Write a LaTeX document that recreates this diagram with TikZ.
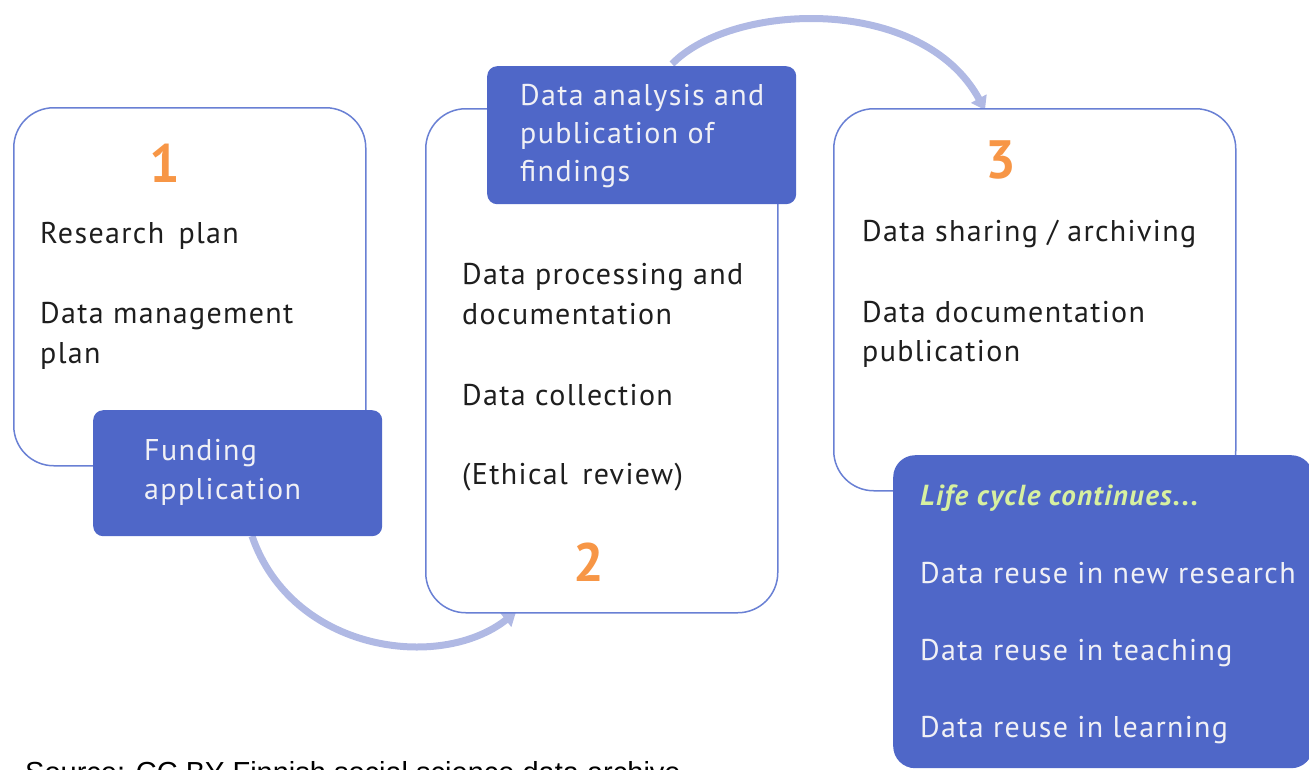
\documentclass[tikz,border=0pt]{standalone}
\usepackage{fontspec}
\setmainfont{PT Sans}[LetterSpace=4.5]
\newfontfamily\srcfont{Liberation Sans}
\usetikzlibrary{arrows.meta}
\definecolor{boxblue}{RGB}{79,103,200}
\definecolor{edgeblue}{RGB}{105,128,212}
\definecolor{arrowc}{RGB}{176,185,228}
\definecolor{orangec}{RGB}{247,150,70}
\definecolor{greenc}{RGB}{215,240,160}
\definecolor{textc}{RGB}{30,30,30}
\definecolor{wtextc}{RGB}{240,240,245}
\begin{document}
\begin{tikzpicture}[x=1pt,y=-1pt,
  outline/.style={draw=edgeblue, line width=1.5pt, fill=white, rounded corners=40pt, anchor=north west, inner sep=0pt},
  solidbox/.style={fill=boxblue, rounded corners=10pt, anchor=north west, inner sep=0pt},
  txt/.style={anchor=base west, inner sep=0pt, font=\fontsize{30}{40}\selectfont, text=textc},
  wtxt/.style={txt, text=wtextc},
  num/.style={anchor=center, inner sep=0pt, font=\fontsize{54}{54}\selectfont\bfseries, text=orangec},
  flow/.style={draw=arrowc, line width=7pt, -{Triangle[length=13pt,width=17pt]}}]
\useasboundingbox (0,0) rectangle (1309,769);
\clip (0,0) rectangle (1309,769);
% connector end points
\coordinate (a1s) at (252,536);
\coordinate (a1e) at (516,612);
\coordinate (a2s) at (672,64);
\coordinate (a2e) at (985,110);
\draw[flow] (a1s) .. controls (292,652) and (440,672) .. (a1e);
\draw[flow] (a2s) .. controls (732,2) and (922,-6) .. (a2e);
% boxes
\node[outline, minimum width=352pt, minimum height=358pt] (b1) at (13,107) {};
\node[solidbox, minimum width=289pt, minimum height=126pt] (fund) at (93,410) {};
\node[outline, minimum width=352pt, minimum height=504pt] (b2) at (425,108) {};
\node[solidbox, minimum width=309pt, minimum height=138pt] (anal) at (487,66) {};
\node[outline, minimum width=402pt, minimum height=382pt] (b3) at (833,108) {};
\node[solidbox, rounded corners=22pt, minimum width=420pt, minimum height=313pt] (life) at (893,455) {};
% texts box 1
\node[num] (n1) at (165,163) {1};
\node[txt] (t11) at (40,243) {Research\, plan};
\node[txt] (t12) at (40,323) {Data management};
\node[txt] (t13) at (40,363) {plan};
\node[wtxt] (f1) at (144,460) {Funding};
\node[wtxt] (f2) at (144,499) {application};
% box 2
\node[wtxt] (d1) at (520,105) {Data analysis and};
\node[wtxt] (d2) at (520,143) {publication of};
\node[wtxt] (d3) at (520,181) {findings};
\node[txt] (t21) at (462,284) {Data processing and};
\node[txt] (t22) at (462,324) {documentation};
\node[txt] (t23) at (462,405) {Data collection};
\node[txt] (t24) at (462,484) {(Ethical\, review)};
\node[num] (n2) at (589,562) {2};
% box 3
\node[num] (n3) at (1001,160) {3};
\node[txt] (t31) at (862,241) {Data sharing / archiving};
\node[txt] (t32) at (862,322) {Data documentation};
\node[txt] (t33) at (862,361) {publication};
% life cycle
\node[txt, text=greenc, font=\fontsize{29}{40}\selectfont\bfseries\itshape] (l0) at (920,505) {Life cycle continues...};
\node[wtxt] (l1) at (920,583) {Data reuse in new research};
\node[wtxt] (l2) at (920,660) {Data reuse in teaching};
\node[wtxt] (l3) at (920,737) {Data reuse in learning};
% source
\node[anchor=base west, inner sep=0pt, font=\srcfont\fontsize{29}{32}\selectfont, text=black] (src) at (25,782) {Source: CC BY Finnish social science data archive};
\end{tikzpicture}
\end{document}
